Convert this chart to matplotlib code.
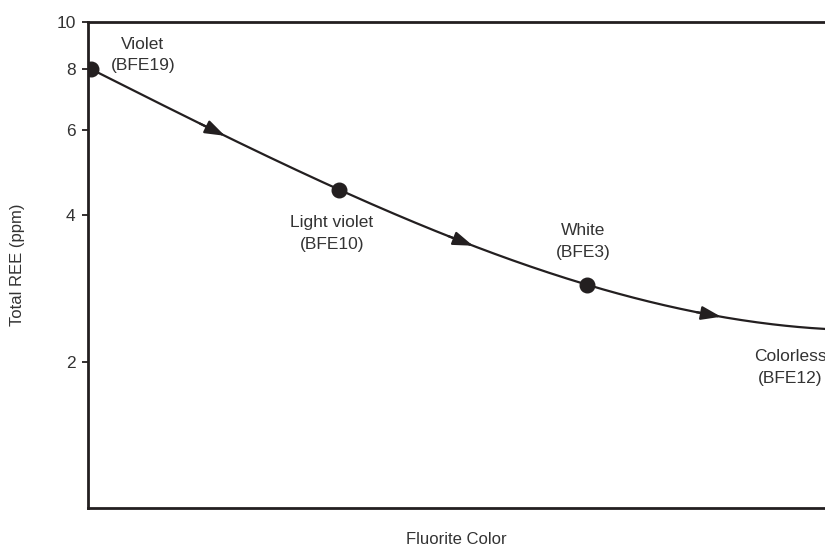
import matplotlib.pyplot as plt
import numpy as np

plt.rcParams['font.family'] = ['Liberation Sans', 'DejaVu Sans']

# data
colors = ['Violet', 'Light violet', 'White', 'Colorless']
samples = ['BFE19', 'BFE10', 'BFE3', 'BFE12']
total_ree = [8.0, 4.52, 2.88, 2.33]
yticks = [2, 4, 6, 8, 10]

ink = '#231f20'
txt = '#333333'

fig = plt.figure(figsize=(8.25, 5.48), dpi=100)
# axes runs past the right edge of the figure, like the cropped original
ax = fig.add_axes([88 / 825, 1 - 508 / 548, 772 / 825, (508 - 22) / 548])

x = np.arange(len(total_ree))
logy = np.log10(total_ree)

# smooth trend through the four samples (cubic in log space)
coef = np.polyfit(x, logy, len(x) - 1)
xs = np.linspace(x[0], x[-1] + 0.1, 300)
ax.plot(xs, 10 ** np.polyval(coef, xs), color=ink, lw=1.6, zorder=2)
ax.plot(x, total_ree, 'o', color=ink, ms=10.5, zorder=3)

# arrows half-way between samples
for xm in (x[:-1] + 0.5):
    x0, x1 = xm - 0.06, xm + 0.04
    ax.annotate('', xy=(x1, 10 ** np.polyval(coef, x1)),
                xytext=(x0, 10 ** np.polyval(coef, x0)),
                arrowprops=dict(arrowstyle='-|>,head_length=0.55,head_width=0.19',
                                color=ink, lw=1.6,
                                mutation_scale=22, shrinkA=0, shrinkB=0),
                zorder=3)

offsets = [(52, 14), (-7, -44), (-4, 43), (-45, -38)]
for xi, yi, c, s, off in zip(x, total_ree, colors, samples, offsets):
    ax.annotate(f'{c}\n({s})', xy=(xi, yi), xytext=off,
                textcoords='offset pixels', ha='center', va='center',
                fontsize=12.5, color=txt, linespacing=1.55)

ax.set_yscale('log')
ax.set_ylim(1, 10)
ax.set_xlim(-0.012, 3.1)
ax.set_yticks(yticks)
ax.set_yticklabels([str(t) for t in yticks])
ax.minorticks_off()
ax.set_xticks([])
ax.tick_params(axis='y', direction='out', length=4, width=1.3,
               labelsize=12.5, colors=ink, labelcolor=txt, pad=5)

for side in ('left', 'top', 'bottom', 'right'):
    ax.spines[side].set_linewidth(2.0)
    ax.spines[side].set_color(ink)

fig.text(456 / 825, 1 - 540 / 548, 'Fluorite Color', ha='center', va='center',
         fontsize=12, color=txt)
fig.text(18 / 825, 1 - 265 / 548, 'Total REE (ppm)', ha='center', va='center',
         rotation=90, fontsize=12, color=txt)

fig.savefig('out.png', dpi=100)
